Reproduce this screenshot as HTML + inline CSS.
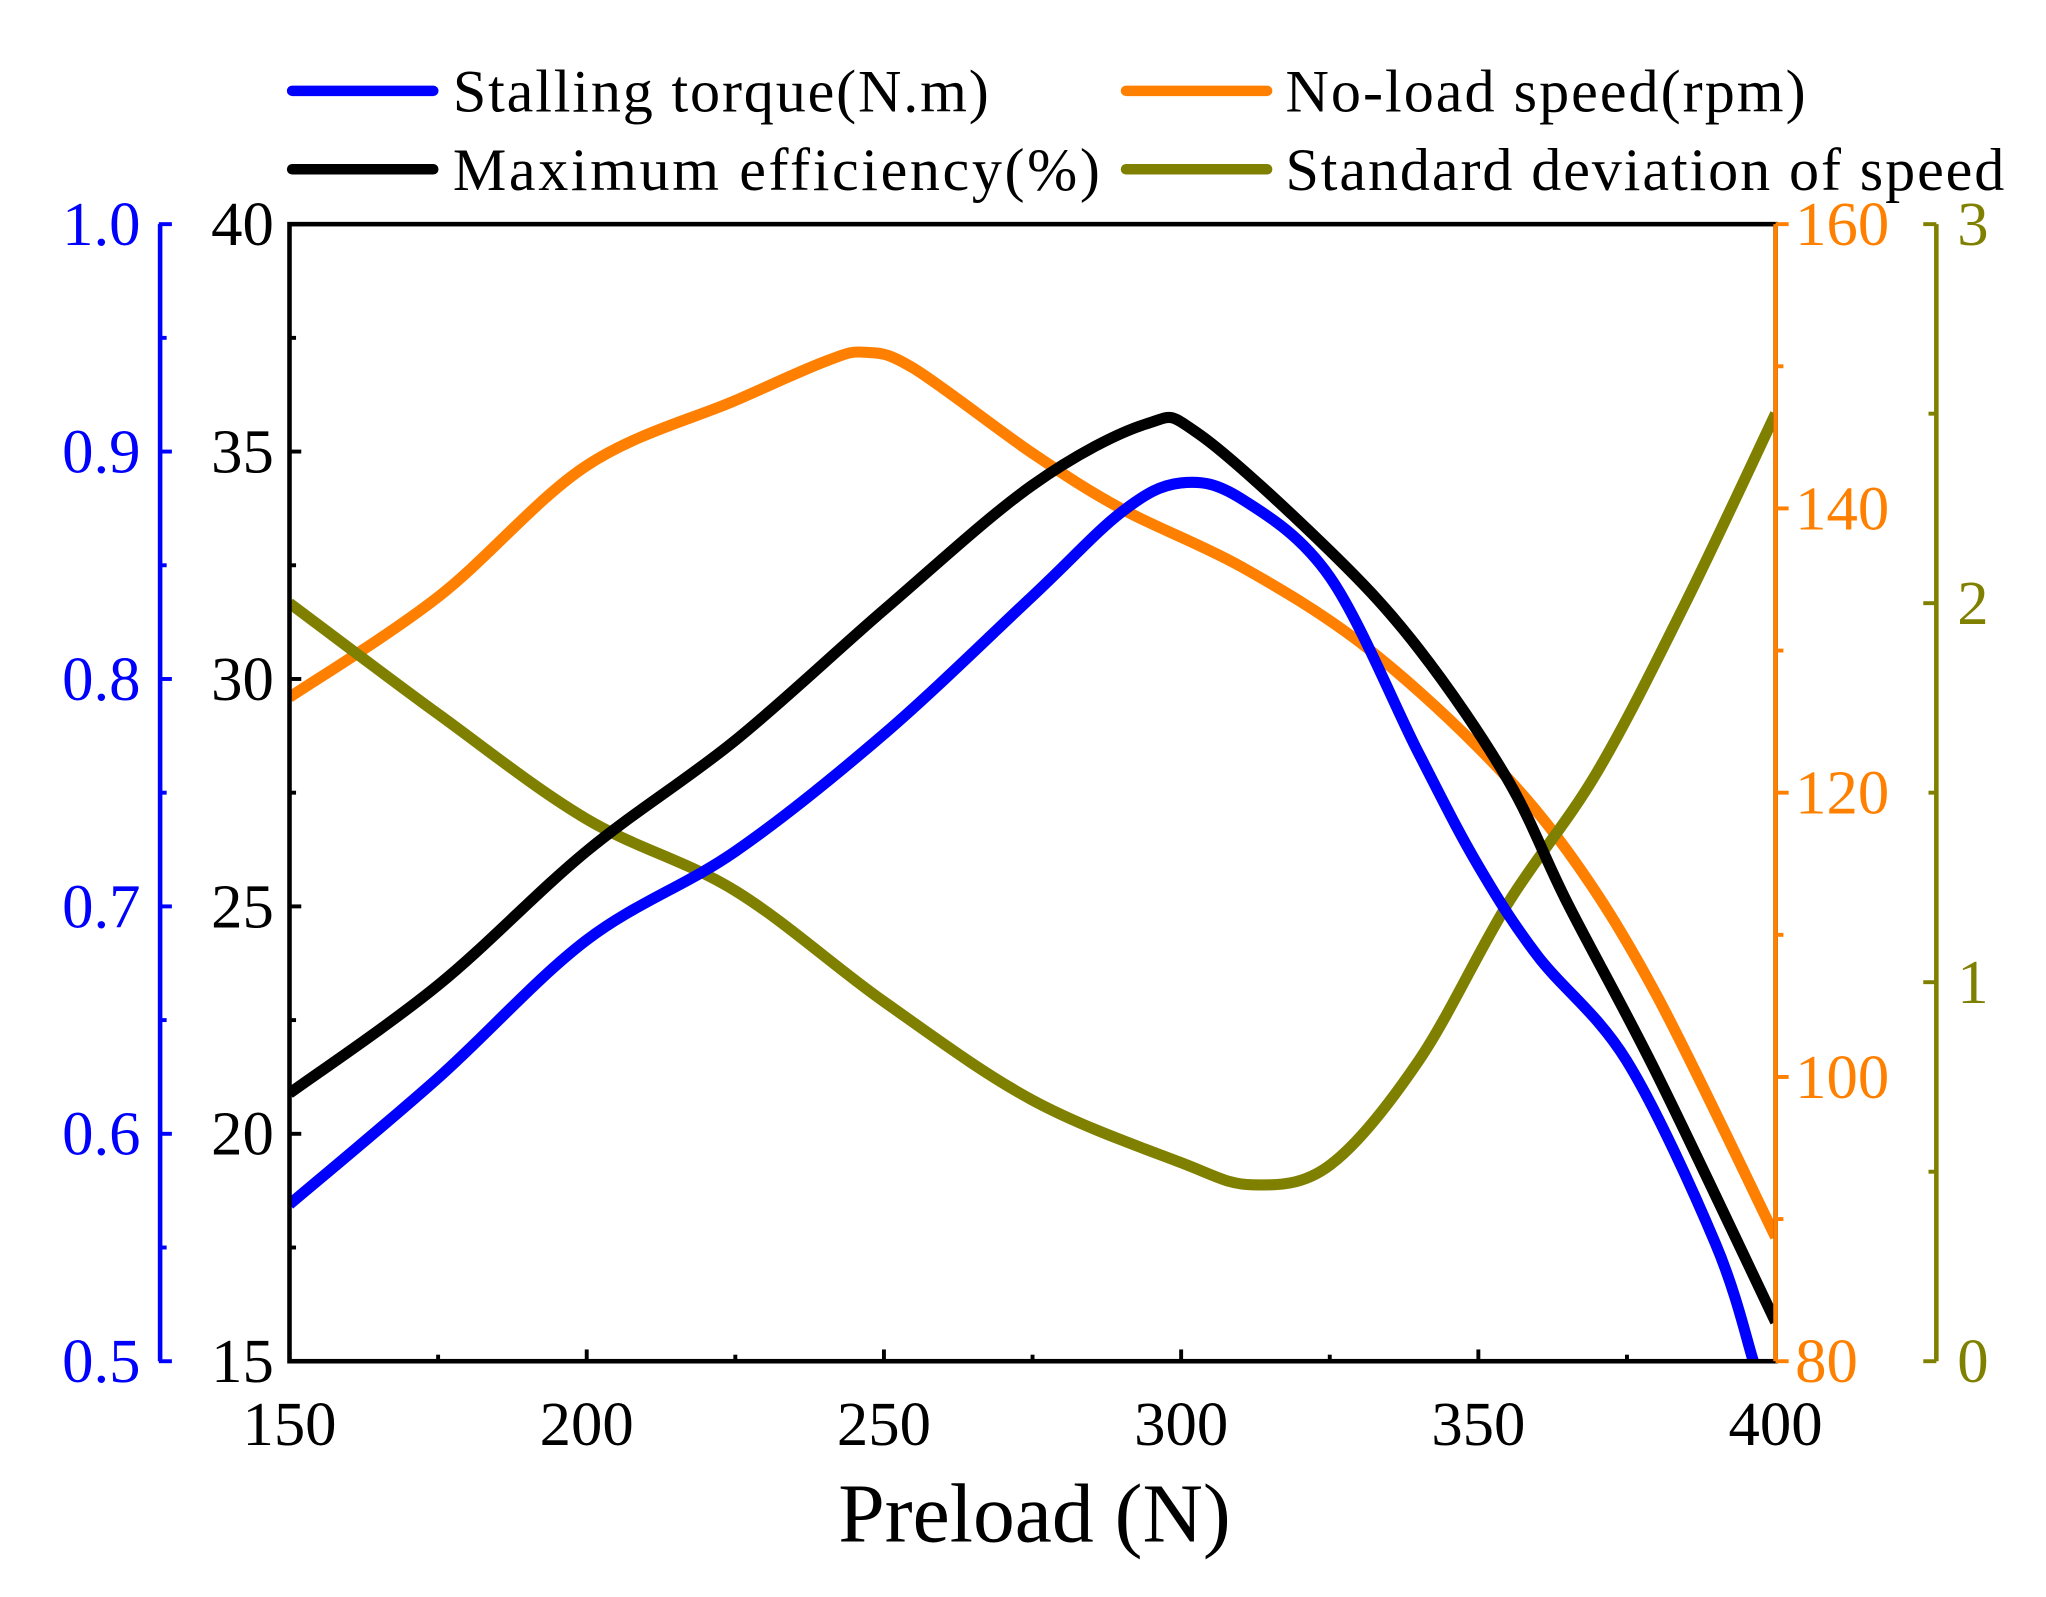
<!DOCTYPE html>
<html><head><meta charset="utf-8"><style>html,body{margin:0;padding:0;background:#fff}svg{display:block}text{font-family:"Liberation Serif",serif}</style></head>
<body>
<svg id="s" width="2046" height="1597" viewBox="-1.5 -1.5 1565.4 1221.9" preserveAspectRatio="none" xmlns="http://www.w3.org/2000/svg">
<rect x="-2" y="-2" width="1570" height="1226" fill="#fff"/>
<g id="g"></g>
<g stroke-width="8" stroke-linecap="round">
<line x1="222" y1="68" x2="330" y2="68" stroke="#0000ff"/>
<line x1="860" y1="68" x2="968" y2="68" stroke="#ff8000"/>
<line x1="222" y1="128" x2="330" y2="128" stroke="#000"/>
<line x1="860" y1="128" x2="968" y2="128" stroke="#808000"/>
</g>
<g font-size="46" fill="#000">
<text x="345" y="84" textLength="410">Stalling torque(N.m)</text>
<text x="982" y="84" textLength="398">No-load speed(rpm)</text>
<text x="345" y="144" textLength="495">Maximum efficiency(%)</text>
<text x="982" y="144" textLength="550">Standard deviation of speed</text>
</g>
<text x="790" y="1178" font-size="64" text-anchor="middle">Preload (N)</text>
</svg>
<script>
const g=document.getElementById('g');let h='';
const X=v=>220+(v-150)/250*1137, T=170,B=1040;
function cr(p){let d='M'+p[0][0]+','+p[0][1];for(let i=0;i<p.length-1;i++){const p0=p[i-1]||p[i],p1=p[i],p2=p[i+1],p3=p[i+2]||p2;
d+=' C'+(p1[0]+(p2[0]-p0[0])/6)+','+(p1[1]+(p2[1]-p0[1])/6)+' '+(p2[0]-(p3[0]-p1[0])/6)+','+(p2[1]-(p3[1]-p1[1])/6)+' '+p2[0]+','+p2[1];}return d;}
h+='<clipPath id="c"><rect x="220" y="170" width="1137" height="870"/></clipPath><g clip-path="url(#c)">';
const S={
'#ff8000':[[220,532],[334,455],[447,355],[561,305],[630,275],[660,268],[697,280],[788,345],[857,388],[948,432],[1039,490],[1129,570],[1198,650],[1266,760],[1357,945]],
'#808000':[[220,460],[334,545],[447,625],[561,680],[675,765],[788,840],[902,888],[957,905],[1016,890],[1084,810],[1152,690],[1220,590],[1288,460],[1357,315]],
'#000000':[[220,835],[334,752],[447,650],[561,565],[675,465],[788,370],[875,323],[915,330],[1016,420],[1084,495],[1152,595],[1198,690],[1266,820],[1357,1010]],
'#0000ff':[[220,920],[334,823],[447,718],[561,650],[675,560],[788,455],[857,390],[902,368],[948,380],[1016,440],[1084,575],[1129,660],[1175,730],[1243,810],[1311,950],[1340,1040]]};
for(const k in S)h+=`<path d="${cr(S[k])}" fill="none" stroke="${k}" stroke-width="8.5" stroke-linejoin="round"/>`;
h+='</g>';
h+='<rect x="220" y="170" width="1137" height="870" fill="none" stroke="#000" stroke-width="3.5"/>';
for(let v=150;v<=400;v+=25){const x=X(v);h+=`<line x1="${x}" y1="${B}" x2="${x}" y2="${B-(v%50?5:9)}" stroke="#000" stroke-width="3"/>`;
if(v%50==0)h+=`<text x="${x}" y="${B+64}" font-size="48" text-anchor="middle">${v}</text>`;}
for(let i=0;i<=10;i++){const y=B-i*87;h+=`<line x1="220" y1="${y}" x2="${220+(i%2?5:9)}" y2="${y}" stroke="#000" stroke-width="3"/>`;
if(i%2==0)h+=`<text x="208" y="${y+16}" font-size="48" text-anchor="end">${15+i/2*5}</text>`;}
h+='<line x1="121" y1="170" x2="121" y2="1040" stroke="#0000ff" stroke-width="3.5"/>';
for(let i=0;i<=10;i++){const y=B-i*87;h+=`<line x1="120" y1="${y}" x2="${121+(i%2?5:9)}" y2="${y}" stroke="#0000ff" stroke-width="3"/>`;
if(i%2==0)h+=`<text x="106" y="${y+16}" font-size="48" text-anchor="end" fill="#0000ff">${(0.5+i*0.05).toFixed(1)}</text>`;}
h+='<line x1="1357" y1="170" x2="1357" y2="1040" stroke="#ff8000" stroke-width="3.5"/>';
for(let i=0;i<=8;i++){const y=B-i*108.75;h+=`<line x1="1357" y1="${y}" x2="${1357+(i%2?6:10)}" y2="${y}" stroke="#ff8000" stroke-width="3"/>`;
if(i%2==0)h+=`<text x="1372" y="${y+16}" font-size="48" fill="#ff8000">${80+i*10}</text>`;}
h+='<line x1="1480" y1="170" x2="1480" y2="1040" stroke="#808000" stroke-width="3.5"/>';
for(let i=0;i<=6;i++){const y=B-i*145;h+=`<line x1="1480" y1="${y}" x2="${1480-(i%2?6:10)}" y2="${y}" stroke="#808000" stroke-width="3"/>`;
if(i%2==0)h+=`<text x="1496" y="${y+16}" font-size="48" fill="#808000">${i/2}</text>`;}
g.innerHTML=h;
</script>
</body></html>
